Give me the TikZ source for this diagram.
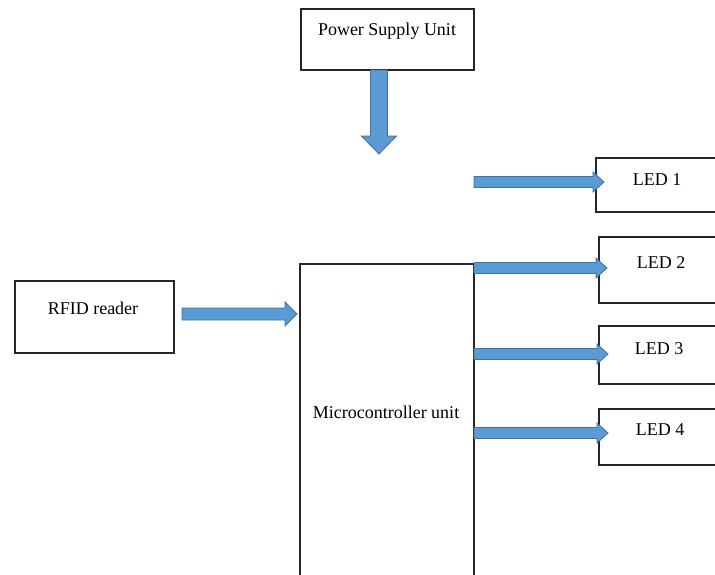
\documentclass[tikz,border=0pt]{standalone}
\usepackage{fontspec}
\setmainfont{Liberation Serif}
\usetikzlibrary{calc}
\definecolor{arrfill}{HTML}{5B9BD5}
\definecolor{arrline}{HTML}{41719C}
\tikzset{
  box/.style={draw=black!85, line width=1.9pt, rectangle, inner sep=0pt},
  lbl/.style={font=\fontsize{18}{20}\selectfont, inner sep=0pt},
  blockarrow/.style={fill=arrfill, draw=arrline, line width=0.8pt, line join=miter}
}
% horizontal block arrow: #1 start, #2 tip, #3 shaft half, #4 head half, #5 head length
\newcommand\hblockarrow[5]{%
  \path[blockarrow] let \p1=(#1), \p2=(#2) in
    (\x1,{\y1+#3}) -- ({\x2-#5},{\y1+#3}) -- ({\x2-#5},{\y1+#4}) -- (\x2,\y1)
    -- ({\x2-#5},{\y1-#4}) -- ({\x2-#5},{\y1-#3}) -- (\x1,{\y1-#3}) -- cycle;}
% vertical (downward) block arrow
\newcommand\vblockarrow[5]{%
  \path[blockarrow] let \p1=(#1), \p2=(#2) in
    ({\x1+#3},\y1) -- ({\x1+#3},{\y2+#5}) -- ({\x1+#4},{\y2+#5}) -- (\x1,\y2)
    -- ({\x1-#4},{\y2+#5}) -- ({\x1-#3},{\y2+#5}) -- ({\x1-#3},\y1) -- cycle;}
\begin{document}
\begin{tikzpicture}[x=1pt,y=-1pt]
  \clip (0,0) rectangle (715,574);
  \fill[white] (0,0) rectangle (715,574);
  % boxes
  \node[box, anchor=north west, minimum width=173pt, minimum height=61pt] (power) at (300,8) {};
  \node[box, anchor=north west, minimum width=174pt, minimum height=340pt] (mcu) at (299,263) {};
  \node[box, anchor=north west, minimum width=159pt, minimum height=72pt] (rfid) at (14,280) {};
  \node[box, anchor=north west, minimum width=140pt, minimum height=54pt] (led1) at (595,157) {};
  \node[box, anchor=north west, minimum width=140pt, minimum height=66pt] (led2) at (598,236) {};
  \node[box, anchor=north west, minimum width=140pt, minimum height=58pt] (led3) at (598,325) {};
  \node[box, anchor=north west, minimum width=140pt, minimum height=56pt] (led4) at (598,408) {};
  % labels
  \node[lbl] (powert) at (387,31) {Power Supply Unit};
  \node[lbl] (mcut) at (386,412) {Microcontroller unit};
  \node[lbl] (rfidt) at (93,308) {RFID reader};
  \node[lbl] (led1t) at (657,180) {LED 1};
  \node[lbl] (led2t) at (661,263) {LED 2};
  \node[lbl] (led3t) at (659,349) {LED 3};
  \node[lbl] (led4t) at (660,430) {LED 4};
  % connector end points
  \coordinate (pwrS) at (379,70);
  \coordinate (pwrT) at (379,154);
  \coordinate (rfidS) at (182,314);
  \coordinate (rfidT) at (297,314);
  \coordinate (l1S) at (474,182);
  \coordinate (l1T) at (604,182);
  \coordinate (l2S) at (474,268);
  \coordinate (l2T) at (607,268);
  \coordinate (l3S) at (474,354);
  \coordinate (l3T) at (608,354);
  \coordinate (l4S) at (474,433);
  \coordinate (l4T) at (608,433);
  % arrows
  \vblockarrow{pwrS}{pwrT}{8.5}{17.5}{18}
  \hblockarrow{rfidS}{rfidT}{6}{12}{12}
  \hblockarrow{l1S}{l1T}{5.5}{10}{11}
  \hblockarrow{l2S}{l2T}{5.5}{10}{11}
  \hblockarrow{l3S}{l3T}{5.5}{10}{11}
  \hblockarrow{l4S}{l4T}{5.5}{10}{11}
\end{tikzpicture}
\end{document}
